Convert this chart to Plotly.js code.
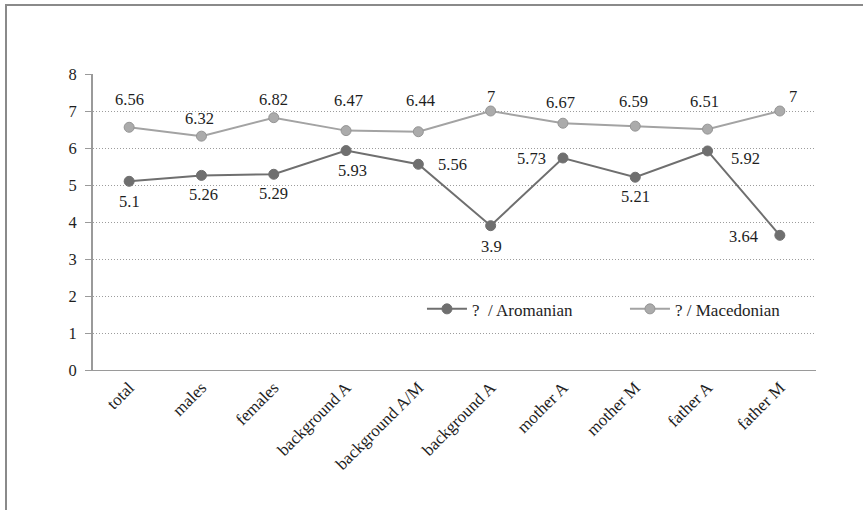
<!DOCTYPE html>
<html>
<head>
<meta charset="utf-8">
<script src="https://cdn.plot.ly/plotly-3.0.1.min.js"></script>
<style>
  html, body { margin: 0; padding: 0; background: #fff; width: 863px; height: 510px; overflow: hidden; }
  #frame { position: absolute; left: 5px; top: 4px; right: 0; bottom: 0; border-left: 2px solid #8a8a8a; border-top: 2px solid #8a8a8a; }
  #chart { position: absolute; left: 0; top: 0; width: 863px; height: 510px; }
</style>
</head>
<body>
<div id="frame"></div>
<div id="chart"></div>
<script>
// ---- data ----
const categories = ['total', 'males', 'females', 'background A', 'background A/M', 'background A', 'mother A', 'mother M', 'father A', 'father M'];
const aromanian = [5.1, 5.26, 5.29, 5.93, 5.56, 3.9, 5.73, 5.21, 5.92, 3.64];
const macedonian = [6.56, 6.32, 6.82, 6.47, 6.44, 7, 6.67, 6.59, 6.51, 7];
const seriesNames = ['?  / Aromanian', '? / Macedonian'];
const yTicks = [0, 1, 2, 3, 4, 5, 6, 7, 8];

// ---- label placement (pixels, layout only) ----
const aroLabelShift = [[0,-20],[2,-19],[0,-19],[6,-20],[34,0],[1,-21],[-31,-1],[0,-19],[38,-8],[-36,-1]];
const macLabelShift = [[0,28],[-2,18],[0,18],[2,30],[2,31],[0,15],[-2,21],[-2,25],[-3,28],[13,15]];

const idx = categories.map((c, i) => i);
const FONT = '"Liberation Serif", "Times New Roman", serif';
const aroColor = '#6f6f6f';
const macColor = '#a3a3a3';

const traces = [
  {
    x: idx, y: aromanian, name: seriesNames[0], type: 'scatter', mode: 'lines+markers',
    line: { color: aroColor, width: 2 },
    marker: { color: aroColor, size: 10, line: { color: aroColor, width: 1 } },
    cliponaxis: false
  },
  {
    x: idx, y: macedonian, name: seriesNames[1], type: 'scatter', mode: 'lines+markers',
    line: { color: macColor, width: 2 },
    marker: { color: '#ababab', size: 10, line: { color: '#959595', width: 1 } },
    cliponaxis: false
  }
];

const annotations = [];
aromanian.forEach((v, i) => annotations.push({
  x: idx[i], y: v, xref: 'x', yref: 'y', text: String(v), showarrow: false,
  xshift: aroLabelShift[i][0], yshift: aroLabelShift[i][1],
  font: { family: FONT, size: 16.5, color: '#1e1e1e' }
}));
macedonian.forEach((v, i) => annotations.push({
  x: idx[i], y: v, xref: 'x', yref: 'y', text: String(v), showarrow: false,
  xshift: macLabelShift[i][0], yshift: macLabelShift[i][1],
  font: { family: FONT, size: 16.5, color: '#1e1e1e' }
}));

const layout = {
  width: 863, height: 510,
  margin: { l: 93, r: 47, t: 74, b: 140, autoexpand: false },
  paper_bgcolor: 'rgba(0,0,0,0)',
  plot_bgcolor: 'rgba(0,0,0,0)',
  font: { family: FONT, size: 16, color: '#1e1e1e' },
  showlegend: true,
  legend: {
    orientation: 'h', x: 0.455, y: 0.205, xanchor: 'left', yanchor: 'middle',
    font: { family: FONT, size: 17, color: '#1e1e1e' },
    bgcolor: 'rgba(0,0,0,0)', entrywidth: 148, entrywidthmode: 'pixels',
    itemwidth: 40
  },
  xaxis: {
    range: [-0.5, categories.length - 0.5],
    tickmode: 'array', tickvals: idx, ticktext: categories,
    tickangle: -45, ticks: '', showgrid: false, zeroline: false,
    showline: true, linecolor: '#9a9a9a', linewidth: 1,
    tickfont: { family: FONT, size: 17, color: '#1e1e1e' },
    fixedrange: true
  },
  yaxis: {
    range: [0, 8], tickmode: 'array', tickvals: yTicks,
    ticks: 'outside', ticklen: 6, tickcolor: '#9a9a9a', tickwidth: 1,
    ticklabelstandoff: 5,
    showline: true, linecolor: '#9a9a9a', linewidth: 2,
    showgrid: true, gridcolor: '#9c9c9c', griddash: '1px,2px', gridwidth: 1,
    zeroline: false,
    tickfont: { family: FONT, size: 16.5, color: '#1e1e1e' },
    fixedrange: true
  },
  annotations: annotations
};

Plotly.newPlot('chart', traces, layout, { displayModeBar: false, staticPlot: true });
</script>
</body>
</html>
